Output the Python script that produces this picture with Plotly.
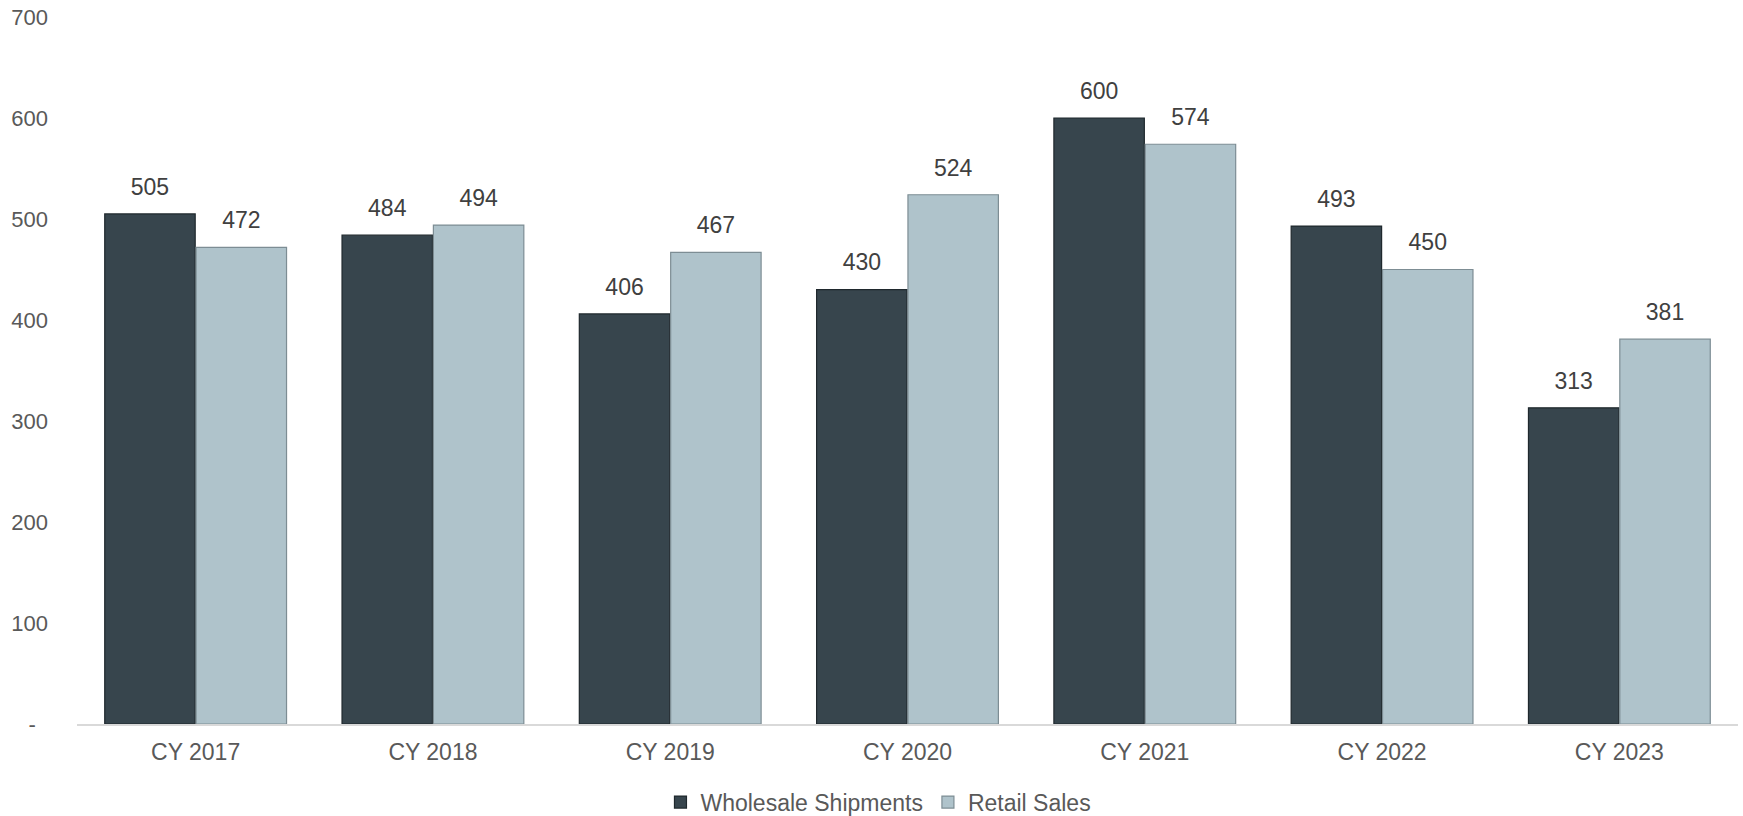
import plotly.graph_objects as go

categories = ["CY 2017", "CY 2018", "CY 2019", "CY 2020", "CY 2021", "CY 2022", "CY 2023"]
wholesale = [505, 484, 406, 430, 600, 493, 313]
retail = [472, 494, 467, 524, 574, 450, 381]
ytick_vals = [0, 100, 200, 300, 400, 500, 600, 700]
ytick_text = ["-\u00a0\u00a0", "100", "200", "300", "400", "500", "600", "700"]

FONT = "Liberation Sans, Arial, sans-serif"

series = [
    ("Wholesale Shipments", wholesale, "#37454d", "#1f282d", "w"),
    ("Retail Sales", retail, "#afc3cb", "#7d8d94", "r"),
]

fig = go.Figure()
for name, vals, col, lcol, grp in series:
    fig.add_trace(go.Bar(
        x=categories, y=vals, name=name,
        offsetgroup=grp, alignmentgroup="a",
        marker=dict(color=col, line=dict(color=lcol, width=1.2)),
    ))
for name, vals, col, lcol, grp in series:
    fig.add_trace(go.Scatter(
        x=categories, y=vals, mode="markers+text", showlegend=False,
        offsetgroup=grp, alignmentgroup="a",
        marker=dict(size=20, opacity=0),
        text=[str(v) for v in vals], textposition="top center",
        textfont=dict(family=FONT, size=23, color="#404040"),
        cliponaxis=False, hoverinfo="skip",
    ))

fig.update_layout(
    width=1743, height=816,
    margin=dict(l=77, r=5, t=14, b=92),
    paper_bgcolor="white", plot_bgcolor="white",
    barmode="group", bargap=0.23, bargroupgap=0.01,
    scattermode="group", scattergap=0.23,
    font=dict(family=FONT, size=23, color="#595959"),
    showlegend=True,
    legend=dict(
        orientation="h", xref="container", yref="container",
        x=0.504, xanchor="center", y=0.017, yanchor="middle",
        font=dict(family=FONT, size=23, color="#595959"),
        itemwidth=30, tracegroupgap=0,
    ),
    xaxis=dict(
        showgrid=False, showline=True, linecolor="#d9d9d9", linewidth=1.5,
        ticks="", ticklabelstandoff=7, zeroline=False,
        tickfont=dict(family=FONT, size=23, color="#595959"),
    ),
    yaxis=dict(
        range=[0, 700], showgrid=False, zeroline=False, showline=False,
        tickvals=ytick_vals, ticktext=ytick_text, ticks="",
        ticklabelstandoff=28,
        tickfont=dict(family=FONT, size=22, color="#595959"),
    ),
)

fig.write_html("out.html")
